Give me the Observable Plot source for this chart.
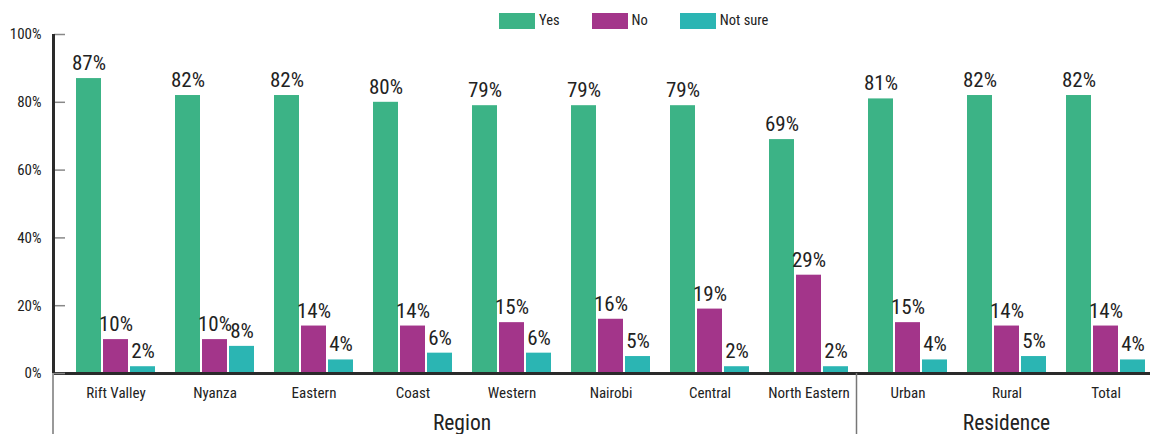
<!DOCTYPE html>
<html>
<head>
<meta charset="utf-8">
<script src="https://cdn.jsdelivr.net/npm/d3@7"></script>
<script src="https://cdn.jsdelivr.net/npm/@observablehq/plot@0.6"></script>
<style>
  body { margin: 0; background: #fff; font-family: "Roboto Condensed", Roboto, sans-serif; }
  #wrap { position: relative; width: 1155px; height: 434px; overflow: hidden; }
  #legend { position: absolute; left: 499px; top: 4px; }
  #legend .lg-swatches { font-family: "Roboto Condensed", Roboto, sans-serif; font-size: 14.5px; color: #222; margin: 0; }
  #legend .lg-swatch { margin-right: 32px !important; }
  #legend .lg-swatch > svg { margin-right: 4px !important; }
  #chart svg { display: block; }
</style>
</head>
<body>
<div id="wrap">
  <div id="chart"></div>
  <div id="legend"></div>
</div>
<script>
const categories = ["Rift Valley", "Nyanza", "Eastern", "Coast", "Western", "Nairobi", "Central", "North Eastern", "Urban", "Rural", "Total"];
const categoryGroups = ["Region", "Region", "Region", "Region", "Region", "Region", "Region", "Region", "Residence", "Residence", "Residence"];
const groupLabels = ["Region", "Residence"];
const series = ["Yes", "No", "Not sure"];
const yesValues = [87, 82, 82, 80, 79, 79, 79, 69, 81, 82, 82];
const noValues = [10, 10, 14, 14, 15, 16, 19, 29, 15, 14, 14];
const notSureValues = [2, 8, 4, 6, 6, 5, 2, 2, 4, 5, 4];
const yTicks = [0, 20, 40, 60, 80, 100];
const colors = ["#3cb386", "#a3358a", "#2bb5b3"];

const seriesValues = [yesValues, noValues, notSureValues];
const rows = [];
series.forEach((s, si) => {
  categories.forEach((c, ci) => rows.push({category: c, series: s, value: seriesValues[si][ci]}));
});

const offsets = {"Yes": -27, "No": 0, "Not sure": 27};
const FONT = "'Roboto Condensed', Roboto, sans-serif";

const marks = [];
series.forEach(s => {
  const d = rows.filter(r => r.series === s);
  marks.push(Plot.barY(d, {x: "category", y: "value", fill: "series", dx: offsets[s]}));
  marks.push(Plot.text(d, {x: "category", y: "value", text: r => r.value + "%", dx: offsets[s], dy: -8.5,
    lineAnchor: "bottom", fontSize: 21, fill: "#222"}));
});

const plot = Plot.plot({
  width: 1155,
  height: 434,
  marginLeft: 54,
  marginRight: 5,
  marginTop: 34,
  marginBottom: 61,
  style: {fontFamily: FONT, color: "#222", background: "#fff"},
  x: {type: "band", domain: categories, range: [102.5, 1118.5], paddingInner: 0.7477, paddingOuter: 0, label: null},
  y: {domain: [0, 100], label: null},
  color: {domain: series, range: colors},
  marks: [
    ...marks,
    Plot.ruleY([0], {stroke: "#2a2a2a", strokeWidth: 3}),
    Plot.axisY({ticks: yTicks, tickSize: -11, tickFormat: () => "", stroke: "#888", strokeWidth: 1.5, label: null}),
    Plot.axisY({ticks: yTicks, tickSize: 0, tickPadding: 13, tickFormat: d => d + "%", fontSize: 15, label: null}),
    Plot.axisX({tickSize: 0, tickPadding: 14, fontSize: 15, label: null})
  ]
});
document.getElementById("chart").appendChild(plot);

// axis lines and group labels using the plot's own scales
const xs = plot.scale("x");
const ys = plot.scale("y");
const bw = xs.bandwidth;
const cx = c => xs.apply(c) + bw / 2;
const svg = d3.select(plot);
const yTop = ys.apply(100), yBase = ys.apply(0);
const left = 54;
svg.append("line").attr("x1", left - 0.5).attr("x2", left - 0.5).attr("y1", yTop).attr("y2", yBase)
  .attr("stroke", "#2a2a2a").attr("stroke-width", 3);
svg.append("line").attr("x1", left - 1).attr("x2", left - 1).attr("y1", yBase).attr("y2", 434)
  .attr("stroke", "#777").attr("stroke-width", 1.5);
// separator between groups
for (let i = 1; i < categories.length; i++) {
  if (categoryGroups[i] !== categoryGroups[i - 1]) {
    const sx = (cx(categories[i - 1]) + cx(categories[i])) / 2 - 1.5;
    svg.append("line").attr("x1", sx).attr("x2", sx).attr("y1", yBase).attr("y2", 434)
      .attr("stroke", "#777").attr("stroke-width", 1.5);
  }
}
groupLabels.forEach(g => {
  const cats = categories.filter((c, i) => categoryGroups[i] === g);
  const gx = (cx(cats[0]) + cx(cats[cats.length - 1])) / 2;
  svg.append("text").attr("x", gx).attr("y", 430).attr("text-anchor", "middle")
    .attr("font-size", 21.5).attr("fill", "#222").attr("font-family", FONT).text(g);
});

const legend = Plot.legend({color: {domain: series, range: colors}, swatchWidth: 36, swatchHeight: 16, className: "lg"});
document.getElementById("legend").appendChild(legend);
</script>
</body>
</html>
